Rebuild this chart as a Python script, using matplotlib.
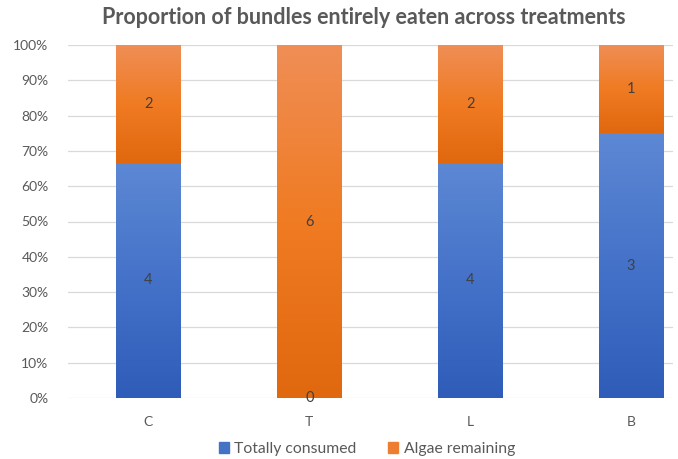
import numpy as np
import matplotlib as mpl
from matplotlib import pyplot as plt
from matplotlib.colors import LinearSegmentedColormap
from matplotlib.patches import Patch

plt.rcParams['font.family'] = ['Lato', 'DejaVu Sans']

# Data ------------------------------------------------------------------------
treatments = ['C', 'T', 'L', 'B']
consumed = np.array([4, 0, 4, 3])
remaining = np.array([2, 6, 2, 1])
series = ['Totally consumed', 'Algae remaining']

total = consumed + remaining
p_cons = consumed / total
p_rem = remaining / total

# Gradient colors (bottom -> top of each segment) ----------------------------
blue_cm = LinearSegmentedColormap.from_list('b', ['#2e5cb8', '#4572c9', '#5d88d4'])
orng_cm = LinearSegmentedColormap.from_list('o', ['#e0680f', '#f07b22', '#ef8e56'])
blue_solid = '#4472c4'
orng_solid = '#ed7d31'
txt_col = '#595959'

fig = plt.figure(figsize=(6.78, 4.59), dpi=100)
ax = fig.add_axes([68/678, 61/459, (673-68)/678, (398-45)/459])

x = np.arange(len(treatments))
w = 0.40
grad = np.linspace(0, 1, 256).reshape(-1, 1)

def grad_bar(xc, bottom, height, cmap):
    if height <= 0:
        return
    ax.imshow(grad, cmap=cmap, aspect='auto', origin='lower',
              extent=(xc - w/2, xc + w/2, bottom, bottom + height), zorder=3)

for i in range(len(x)):
    grad_bar(x[i], 0, p_cons[i], blue_cm)
    grad_bar(x[i], p_cons[i], p_rem[i], orng_cm)
    # data labels
    ax.text(x[i], p_cons[i]/2, str(consumed[i]), ha='center', va='center',
            fontsize=10.5, color='#404040', zorder=5)
    ax.text(x[i], p_cons[i] + p_rem[i]/2, str(remaining[i]), ha='center',
            va='center', fontsize=10.5, color='#404040', zorder=5)

ax.set_xlim(-0.5, 3.26)
ax.set_ylim(0, 1)
ticks = np.arange(0, 1.01, 0.1)
ax.set_yticks(ticks)
ax.set_yticklabels([f'{int(round(v*100))}%' for v in ticks])
ax.set_xticks(x)
ax.set_xticklabels(treatments)
ax.grid(axis='y', color='#d9d9d9', linewidth=0.9, zorder=0)
ax.set_axisbelow(True)
for s in ax.spines.values():
    s.set_visible(False)
ax.tick_params(axis='both', length=0, colors=txt_col, labelsize=10)
ax.tick_params(axis='y', pad=14)
ax.tick_params(axis='x', pad=13)

fig.text(364/678, 1 - 24/459, 'Proportion of bundles entirely eaten across treatments',
         ha='center', va='baseline', fontsize=15.5, fontweight='bold', color=txt_col)

handles = [Patch(color=blue_solid, label=series[0]),
           Patch(color=orng_solid, label=series[1])]
fig.legend(handles=handles, loc='center', bbox_to_anchor=(367/678, 10/459),
           ncol=2, frameon=False, fontsize=11.3, handlelength=0.65, handleheight=0.65,
           handletextpad=0.35, columnspacing=2.0, labelcolor=txt_col)

fig.savefig('out.png', dpi=100, facecolor='white')
